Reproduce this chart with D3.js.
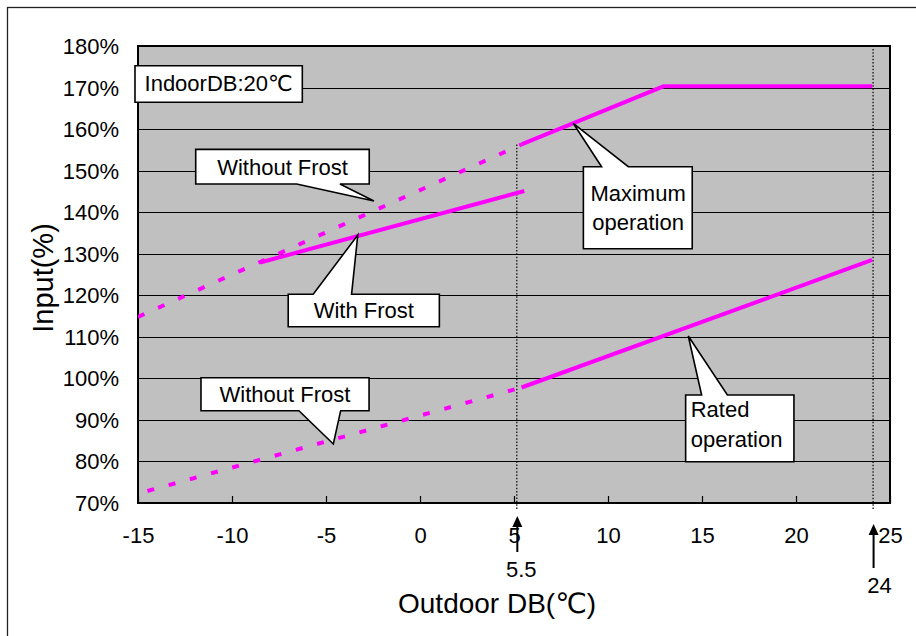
<!DOCTYPE html>
<html><head><meta charset="utf-8">
<script src="https://cdn.jsdelivr.net/npm/d3@7"></script>
<style>
body{margin:0;background:#fff}
svg{display:block}
text{font-family:"Liberation Sans",Arial,"DejaVu Sans",sans-serif;fill:#000}
</style>
</head><body>
<svg id="c" width="916" height="636"></svg>
<script>
// ---------- data ----------
const xTicks = [-15, -10, -5, 0, 5, 10, 15, 20, 25];
const yTicks = [70, 80, 90, 100, 110, 120, 130, 140, 150, 160, 170, 180];
const gridValues = [80, 90, 100, 110, 120, 130, 140, 150, 160, 170];

// Maximum operation (dashed part = without frost, solid part)
const maxDashX  = [-15, 5.4];
const maxDashY  = [114.8, 156.3];
const maxSolidX = [5.4, 12.95, 24.05];
const maxSolidY = [156.3, 170.3, 170.3];
// With frost
const frostX = [-8.5, 5.55];
const frostY = [127.9, 145.1];
// Rated operation (dashed part = without frost, solid part)
const ratedDashX  = [-14.5, 5.4];
const ratedDashY  = [72.9, 97.8];
const ratedSolidX = [5.4, 24.05];
const ratedSolidY = [97.8, 128.5];

// reference markers on the x axis
const markerX      = [5.15, 24.1];
const markerTopY   = [156.3, 179.3];
const markerLabels = ["5.5", "24"];

// callouts (data units)
const callouts = [
  {lines:["IndoorDB:20℃"], box:[-15.16,175.26,-6.26,166.45], tail:null, tx:-10.71, ty:169.24, anchor:"middle"},
  {lines:["Without Frost"], box:[-11.93,155.12,-2.70,146.77], tail:{edge:"bottom",a:-6.56,b:-4.26,tip:[-2.45,142.69]}, tx:-7.31, ty:148.95, anchor:"middle"},
  {lines:["With Frost"], box:[-7.01,120.23,1.03,112.44], tail:{edge:"top",a:-5.68,b:-3.64,tip:[-3.31,134.51]}, tx:-2.99, ty:114.53, anchor:"middle"},
  {lines:["Maximum","operation"], box:[8.69,150.95,14.48,131.21], tail:{edge:"top",a:9.66,b:11.08,tip:[8.15,161.40]}, tx:11.60, ty:142.76, anchor:"middle"},
  {lines:["Without Frost"], box:[-11.65,100.16,-2.71,92.22], tail:{edge:"bottom",a:-6.44,b:-4.22,tip:[-4.61,84.2]}, tx:-7.18, ty:94.34, anchor:"middle"},
  {lines:["Rated","operation"], box:[14.13,96.0,19.89,79.94], tail:{edge:"top",a:14.98,b:16.35,tip:[14.27,110.2]}, tx:14.40, ty:90.63, anchor:"start"}
];

const xTitle = "Outdoor DB(℃)";
const yTitle = "Input(%)";

// ---------- layout ----------
const W = 916, H = 636;
const L = 138, R = 890, T = 46, B = 503;
const svg = d3.select("#c");

const x = d3.scaleLinear().domain([-15, 25]).range([L, R]);
const y = d3.scaleLinear().domain([70, 180]).range([B, T]);

// outer frame
svg.append("rect").attr("x", 7.5).attr("y", 7.5).attr("width", W).attr("height", H)
  .attr("fill", "#fff").attr("stroke", "#222").attr("stroke-width", 1.3);

// plot background
svg.append("rect").attr("x", L).attr("y", T).attr("width", R - L).attr("height", B - T)
  .attr("fill", "#c0c0c0");

// gridlines
svg.append("g").selectAll("line").data(gridValues).join("line")
  .attr("x1", L).attr("x2", R)
  .attr("y1", d => Math.round(y(d)) + 0.5).attr("y2", d => Math.round(y(d)) + 0.5)
  .attr("stroke", "#000").attr("stroke-width", 1);

// x axis (inner ticks)
const xAxis = svg.append("g").attr("transform", `translate(0,${B})`)
  .call(d3.axisBottom(x).tickValues(xTicks).tickSize(-7).tickPadding(24).tickFormat(d => String(d)));
xAxis.select(".domain").remove();
xAxis.selectAll(".tick line").attr("stroke", "#000").attr("stroke-width", 1.2);
xAxis.selectAll("text").attr("font-size", 22).attr("fill", "#000")
  .style("font-family", '"Liberation Sans",Arial,sans-serif');

// y axis
const yAxis = svg.append("g").attr("transform", `translate(${L},0)`)
  .call(d3.axisLeft(y).tickValues(yTicks).tickSize(0).tickPadding(19).tickFormat(d => d + "%"));
yAxis.select(".domain").remove();
yAxis.selectAll("text").attr("font-size", 22).attr("fill", "#000").attr("dy", "0.34em")
  .style("font-family", '"Liberation Sans",Arial,sans-serif');

// plot border
svg.append("rect").attr("x", L).attr("y", T).attr("width", R - L).attr("height", B - T)
  .attr("fill", "none").attr("stroke", "#000").attr("stroke-width", 2);

// dotted marker lines
markerX.forEach((mx, i) => {
  svg.append("line")
    .attr("x1", x(mx)).attr("x2", x(mx))
    .attr("y1", y(markerTopY[i])).attr("y2", B + 7)
    .attr("stroke", "#000").attr("stroke-width", 1.2).attr("stroke-dasharray", "1.5,1.8");
});

// series lines
const line = d3.line().x(d => x(d[0])).y(d => y(d[1]));
const zip = (a, b) => a.map((v, i) => [v, b[i]]);
const magenta = "#ff00ff";
const series = [
  {pts: zip(maxDashX, maxDashY), dash: "7,15"},
  {pts: zip(maxSolidX, maxSolidY), dash: null},
  {pts: zip(frostX, frostY), dash: null},
  {pts: zip(ratedDashX, ratedDashY), dash: "7,15"},
  {pts: zip(ratedSolidX, ratedSolidY), dash: null}
];
svg.append("defs").append("clipPath").attr("id", "clip")
  .append("rect").attr("x", L).attr("y", T).attr("width", R - L).attr("height", B - T);
const sg = svg.append("g").attr("clip-path", "url(#clip)");
series.forEach(s => {
  sg.append("path").attr("d", line(s.pts)).attr("fill", "none")
    .attr("stroke", magenta).attr("stroke-width", 4)
    .attr("stroke-dasharray", s.dash);
});

// callouts
callouts.forEach(c => {
  const x0 = x(c.box[0]), y0 = y(c.box[1]), x1 = x(c.box[2]), y1 = y(c.box[3]);
  let pts = [];
  if (c.tail && c.tail.edge === "top") {
    pts = [[x0, y0], [x(c.tail.a), y0], [x(c.tail.tip[0]), y(c.tail.tip[1])], [x(c.tail.b), y0], [x1, y0], [x1, y1], [x0, y1]];
  } else if (c.tail && c.tail.edge === "bottom") {
    pts = [[x0, y0], [x1, y0], [x1, y1], [x(c.tail.b), y1], [x(c.tail.tip[0]), y(c.tail.tip[1])], [x(c.tail.a), y1], [x0, y1]];
  } else {
    pts = [[x0, y0], [x1, y0], [x1, y1], [x0, y1]];
  }
  svg.append("path").attr("d", "M" + pts.map(p => p.join(",")).join("L") + "Z")
    .attr("fill", "#fff").attr("stroke", "#000").attr("stroke-width", 1.6)
    .attr("stroke-linejoin", "miter");
  const t = svg.append("text").attr("x", x(c.tx)).attr("y", y(c.ty))
    .attr("font-size", 22).attr("text-anchor", c.anchor);
  c.lines.forEach((ln, i) => {
    t.append("tspan").attr("x", x(c.tx)).attr("dy", i === 0 ? 0 : 29.3).text(ln);
  });
});

// arrows below the axis
const arrowGeom = [
  {tip: 13, tail: 49, label: 74, dx: 4},
  {tip: 21, tail: 65, label: 90, dx: 6}
];
markerX.forEach((mx, i) => {
  const g = arrowGeom[i], ax = x(mx) + 0.5;
  svg.append("line").attr("x1", ax).attr("x2", ax)
    .attr("y1", B + g.tip + 8).attr("y2", B + g.tail)
    .attr("stroke", "#000").attr("stroke-width", 2);
  svg.append("path")
    .attr("d", `M${ax},${B + g.tip}L${ax - 5},${B + g.tip + 11}L${ax + 5},${B + g.tip + 11}Z`)
    .attr("fill", "#000");
  svg.append("text").attr("x", ax + g.dx).attr("y", B + g.label)
    .attr("font-size", 22).attr("text-anchor", "middle").text(markerLabels[i]);
});

// axis titles
svg.append("text").attr("x", 497).attr("y", 613).attr("font-size", 28)
  .attr("text-anchor", "middle").text(xTitle);
svg.append("text").attr("transform", "translate(53,278) rotate(-90)")
  .attr("font-size", 29).attr("text-anchor", "middle").text(yTitle);
</script>
</body></html>
